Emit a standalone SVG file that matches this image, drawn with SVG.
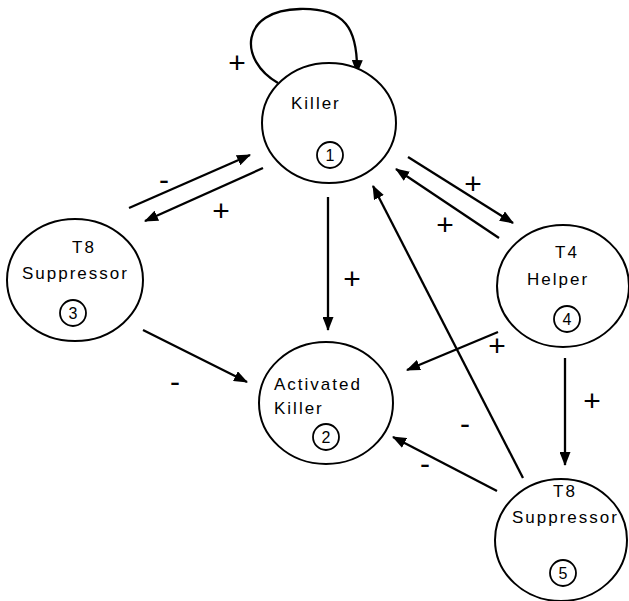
<svg xmlns="http://www.w3.org/2000/svg" width="629" height="601" viewBox="0 0 629 601">
<defs>
<marker id="ah" markerWidth="14" markerHeight="11" refX="13" refY="5.5" orient="auto" markerUnits="userSpaceOnUse">
<path d="M0,0 L14,5.5 L0,11 Z" fill="#000"/>
</marker>
<style>
.node{fill:#fff;stroke:#000;stroke-width:2}
.num{fill:none;stroke:#000;stroke-width:1.8}
.lbl{font-family:"Liberation Sans",Arial,sans-serif;font-size:17px;letter-spacing:2px;fill:#000}
.n{font-family:"Liberation Sans",Arial,sans-serif;font-size:16px;fill:#000;text-anchor:middle}
.sign{font-family:"Liberation Sans",Arial,sans-serif;font-size:30px;fill:#000;text-anchor:middle}
.edge{fill:none;stroke:#000;stroke-width:2.3;marker-end:url(#ah)}
</style>
</defs>
<rect width="629" height="601" fill="#fff"/>
<g id="connectors">
<path class="edge" d="M278,83 C238,60 240,10 300,9 C345,8 358,28 357,73"/>
<line class="edge" x1="129" y1="208" x2="250" y2="155"/>
<line class="edge" x1="263" y1="168" x2="145" y2="221"/>
<line class="edge" x1="408" y1="157" x2="513" y2="223"/>
<line class="edge" x1="499" y1="238" x2="396" y2="169"/>
<line class="edge" x1="328" y1="197" x2="328" y2="330"/>
<line class="edge" x1="143" y1="330" x2="247" y2="382"/>
<line class="edge" x1="498" y1="332" x2="407" y2="370"/>
<line class="edge" x1="565" y1="358" x2="565" y2="465"/>
<line class="edge" x1="523" y1="478" x2="373" y2="186"/>
<line class="edge" x1="497" y1="491" x2="393" y2="437"/>
<text class="sign" x="237" y="73">+</text>
<text class="sign" x="164" y="190">-</text>
<text class="sign" x="221" y="221">+</text>
<text class="sign" x="473" y="194">+</text>
<text class="sign" x="445" y="235">+</text>
<text class="sign" x="352" y="289">+</text>
<text class="sign" x="175" y="392">-</text>
<text class="sign" x="497" y="356">+</text>
<text class="sign" x="592" y="411">+</text>
<text class="sign" x="465" y="434">-</text>
<text class="sign" x="425" y="474">-</text>
</g>
<g id="killer">
<ellipse class="node" cx="329" cy="123" rx="67" ry="60"/>
<text class="lbl" x="291" y="109">Killer</text>
<circle class="num" cx="330" cy="155" r="13"/>
<text class="n" x="330" y="161">1</text>
</g>
<g id="activated-killer">
<ellipse class="node" cx="326" cy="403" rx="67" ry="61"/>
<text class="lbl" x="274" y="390">Activated</text>
<text class="lbl" x="274" y="414">Killer</text>
<circle class="num" cx="326" cy="437" r="13"/>
<text class="n" x="326" y="443">2</text>
</g>
<g id="t8-suppressor-3">
<ellipse class="node" cx="75" cy="280" rx="68" ry="61"/>
<text class="lbl" x="72" y="253">T8</text>
<text class="lbl" x="22" y="279">Suppressor</text>
<circle class="num" cx="73" cy="313" r="13"/>
<text class="n" x="73" y="319">3</text>
</g>
<g id="t4-helper">
<ellipse class="node" cx="563" cy="286" rx="66" ry="61"/>
<text class="lbl" x="555" y="258">T4</text>
<text class="lbl" x="527" y="285">Helper</text>
<circle class="num" cx="567" cy="319" r="13"/>
<text class="n" x="567" y="325">4</text>
</g>
<g id="t8-suppressor-5">
<ellipse class="node" cx="561" cy="540" rx="66" ry="61"/>
<text class="lbl" x="553" y="497">T8</text>
<text class="lbl" x="512" y="523">Suppressor</text>
<circle class="num" cx="563" cy="573" r="13"/>
<text class="n" x="563" y="579">5</text>
</g>
</svg>
